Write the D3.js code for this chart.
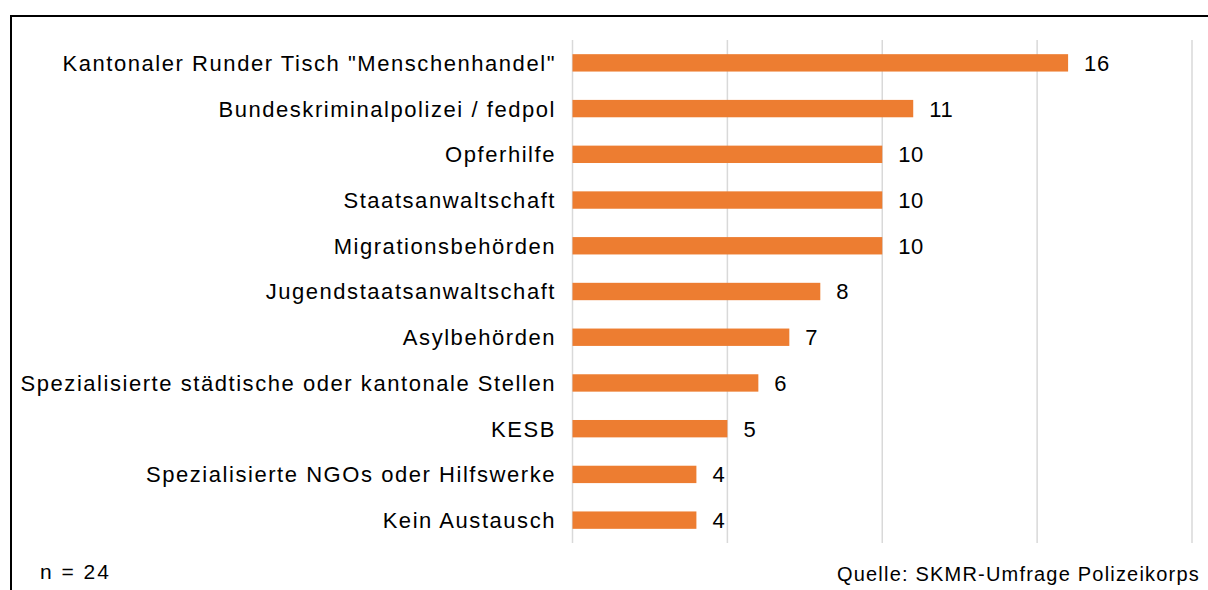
<!DOCTYPE html>
<html>
<head>
<meta charset="utf-8">
<script src="https://cdn.jsdelivr.net/npm/d3@7"></script>
<style>
  body { margin: 0; background: #fff; }
  text { font-family: "Liberation Sans", Arial, sans-serif; fill: #000; }
  .catText { font-size: 22px; letter-spacing: 1.55px; }
  .valText { font-size: 22px; letter-spacing: 0.6px; }
  .noteLeft { font-size: 21px; letter-spacing: 2px; }
  .noteRight { font-size: 20px; letter-spacing: 1.2px; }
</style>
</head>
<body>
<svg width="1208" height="590"></svg>
<script>
// data
categories = [
	"Kantonaler Runder Tisch \"Menschenhandel\"",
	"Bundeskriminalpolizei / fedpol",
	"Opferhilfe",
	"Staatsanwaltschaft",
	"Migrationsbehörden",
	"Jugendstaatsanwaltschaft",
	"Asylbehörden",
	"Spezialisierte städtische oder kantonale Stellen",
	"KESB",
	"Spezialisierte NGOs oder Hilfswerke",
	"Kein Austausch"
];
values = [16, 11, 10, 10, 10, 8, 7, 6, 5, 4, 4];
xTicks = [0, 5, 10, 15, 20];
noteLeft = "n = 24";
noteRight = "Quelle: SKMR-Umfrage Polizeikorps";

svg = d3.select("svg");
widthSvg = +svg.attr("width");
heightSvg = +svg.attr("height");

plotLeft = 572.5 ; 
plotRight = 1192 ;
plotTop = 40 ;
plotBottom = 543 ;

// frame (goes off the picture at right and bottom)
svg.append("rect")
		.attr("x", 11)
		.attr("y", 16)
		.attr("width", widthSvg + 50)
		.attr("height", heightSvg + 50)
		.attr("fill", "none")
		.attr("stroke", "#000")
		.attr("stroke-width", 2)
;

x = d3.scaleLinear()
		.domain([0, 20])
		.range([plotLeft, plotRight])
;
y = d3.scaleBand()
		.domain(categories)
		.range([plotTop, plotBottom])
		.paddingInner(0.62)
		.paddingOuter(0.31)
;

grid = svg.append("g").attr("class", "grid");
xTicks.forEach(function(t) {
	grid.append("line")
			.attr("x1", x(t))
			.attr("x2", x(t))
			.attr("y1", plotTop)
			.attr("y2", plotBottom)
			.attr("stroke", "#D9D9D9")
			.attr("stroke-width", 1.5)
	;
});

bars = svg.append("g").attr("class", "bars");
categories.forEach(function(c, i) {
	bars.append("rect")
			.attr("x", x(0))
			.attr("y", y(c))
			.attr("width", x(values[i]) - x(0))
			.attr("height", y.bandwidth())
			.attr("fill", "#ED7D31")
	;
	bars.append("text")
			.attr("class", "valText")
			.attr("x", x(values[i]) + 16)
			.attr("y", y(c) + y.bandwidth() / 2)
			.attr("dy", "0.36em")
			.text(values[i])
	;
	svg.append("text")
			.attr("class", "catText")
			.attr("x", 556)
			.attr("y", y(c) + y.bandwidth() / 2)
			.attr("dy", "0.36em")
			.attr("text-anchor", "end")
			.text(c)
	;
});

svg.append("text")
		.attr("class", "noteLeft")
		.attr("x", 40)
		.attr("y", 579)
		.text(noteLeft)
;
svg.append("text")
		.attr("class", "noteRight")
		.attr("x", 1200)
		.attr("y", 581)
		.attr("text-anchor", "end")
		.text(noteRight)
;
</script>
</body>
</html>
